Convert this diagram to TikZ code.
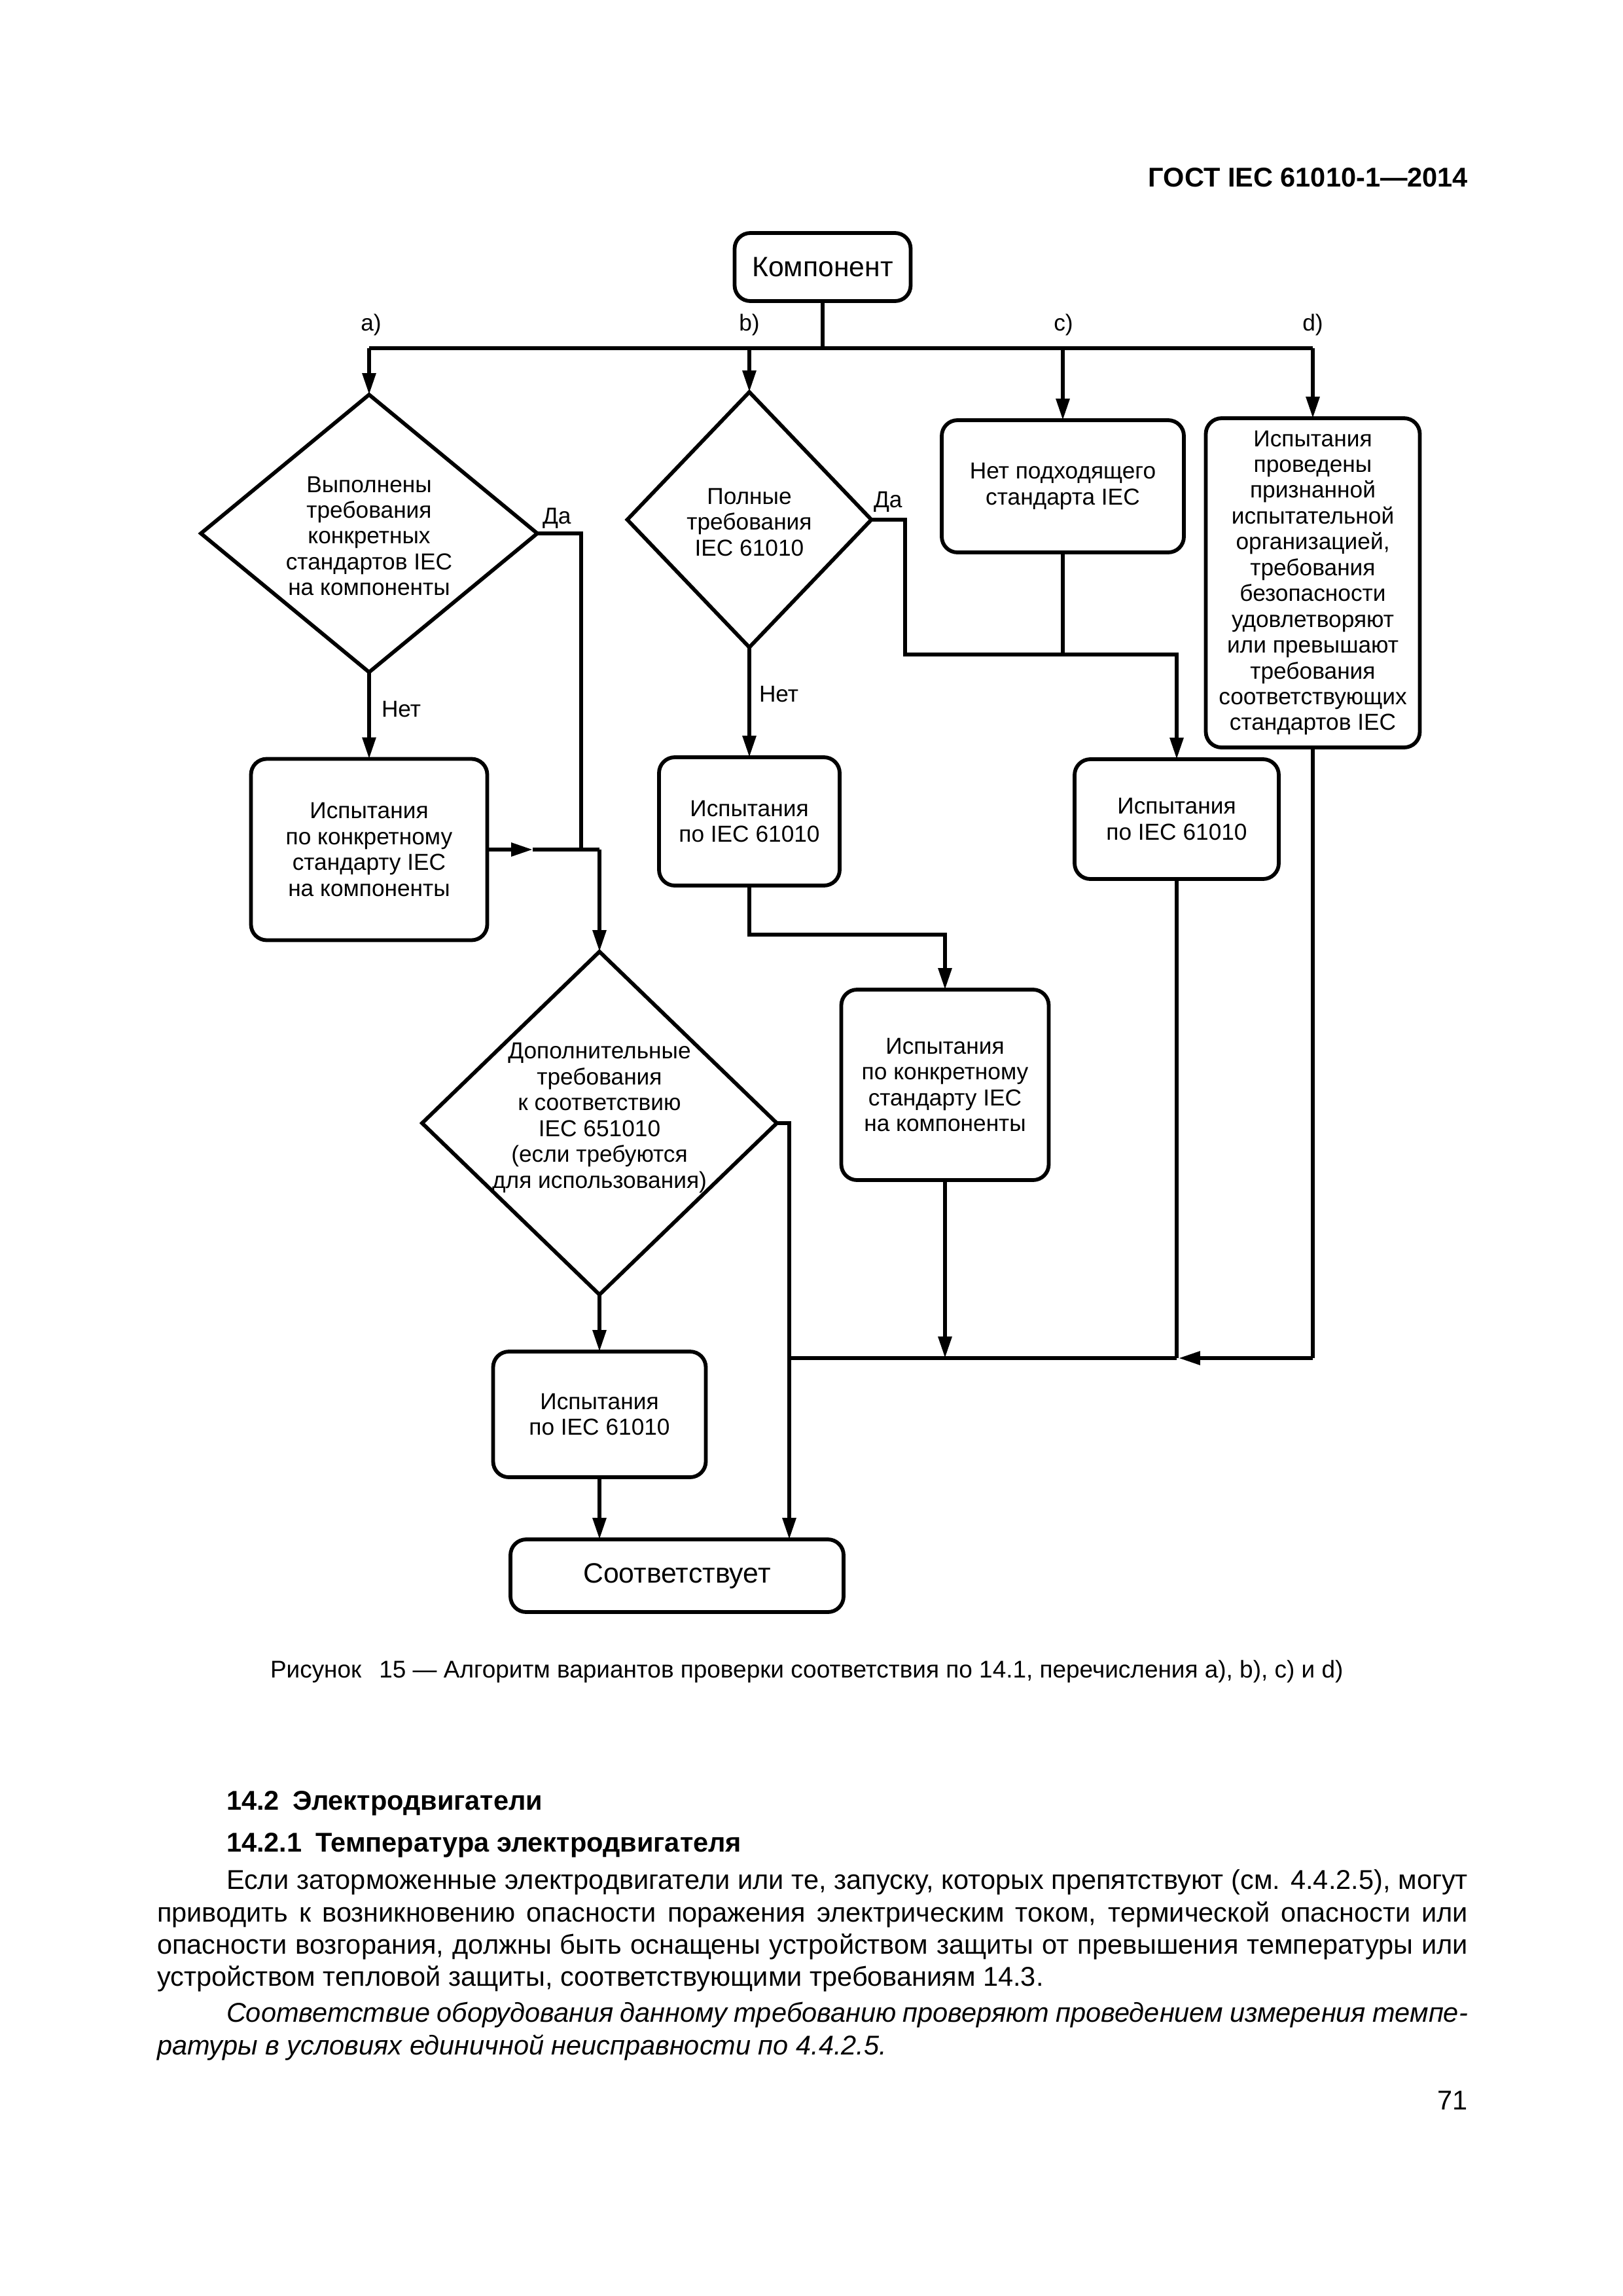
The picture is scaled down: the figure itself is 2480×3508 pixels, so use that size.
\documentclass[tikz,border=0pt]{standalone}
\usepackage{fontspec}
\setmainfont{Liberation Sans}
\usetikzlibrary{shapes.geometric,arrows.meta}
\newdimen\pxu \pxu=0.0846774mm
\newcommand\diagfont{\fontsize{8.5}{9.5}\selectfont}
\newcommand\bigdiagfont{\fontsize{10.3}{12}\selectfont}
\newcommand\bodyfont{\fontsize{10}{12}\selectfont}
\begin{document}
\begin{tikzpicture}[x=0.0846774mm,y=-0.0846774mm,
  every node/.style={inner sep=0pt, outer sep=0pt},
  conn/.style={line width=1.4pt},
  arr/.style={conn, -{Triangle[length=7.9pt,width=4.8pt]}},
  rbox/.style={draw, line width=1.4pt, rounded corners=24\pxu, align=center, font=\diagfont},
  diam/.style={draw, diamond, line width=1.4pt},
  dtext/.style={align=center, font=\diagfont},
  lab/.style={font=\diagfont},
  txt/.style={anchor=base west, font=\bodyfont},
]
\useasboundingbox (0,0) rectangle (2480,3508);

% header
\node[anchor=base east, font=\bfseries\fontsize{10}{12}\selectfont] (hdr) at (2243,285) {ГОСТ IEC 61010-1—2014};

% top
\node[rbox, font=\bigdiagfont, minimum width=269\pxu, minimum height=104\pxu] (komp) at (1257,408) {Компонент};
\coordinate (ba) at (564,532);
\coordinate (bb) at (1145,532);
\coordinate (bc) at (1624,532);
\coordinate (bd) at (2006,532);
\draw[conn] (ba) -- (bd);
\draw[conn] (komp.south) -- (komp.south |- ba);
\node[lab, anchor=base] (la) at (567,505) {a)};
\node[lab, anchor=base] (lb) at (1145,505) {b)};
\node[lab, anchor=base] (lc) at (1625,505) {c)};
\node[lab, anchor=base] (ld) at (2006,505) {d)};

% branch a
\node[diam, minimum width=514\pxu, minimum height=424\pxu] (da) at (564,815) {};
\node[dtext] (daT) at (564,819) {Выполнены\\требования\\конкретных\\стандартов IEC\\на компоненты};
\draw[arr] (ba) -- (da.north);
\node[lab, anchor=base west] (daYes) at (829,800) {Да};
\node[lab, anchor=base west] (daNo) at (583,1095) {Нет};
\node[rbox, minimum width=361\pxu, minimum height=277\pxu] (a2) at (564,1298) {Испытания\\по конкретному\\стандарту IEC\\на компоненты};
\draw[arr] (da.south) -- (a2.north);
\coordinate (ya1) at (888,815);
\coordinate (ya2) at (888,1298);
\draw[conn] (da.east) -- (ya1) -- (ya2);
\coordinate (ma) at (814,1298);
\coordinate (ja) at (916,1298);
\draw[arr] (a2.east) -- (ma);
\draw[conn] (ma) -- (ja);

% diamond c
\node[diam, minimum width=542\pxu, minimum height=524\pxu] (dc) at (916,1716) {};
\node[dtext] (dcT) at (916,1708) {Дополнительные\\требования\\к соответствию\\IEC 651010\\(если требуются\\для использования)};
\draw[arr] (ja) -- (dc.north);
\node[rbox, minimum width=325\pxu, minimum height=192\pxu] (c3) at (916,2161) {Испытания\\по IEC 61010};
\draw[arr] (dc.south) -- (c3.north);
\node[rbox, font=\bigdiagfont, minimum width=509\pxu, minimum height=111\pxu] (sv) at (1034.5,2407.5) {Соответствует};
\draw[arr] (c3.south) -- (c3.south |- sv.north);
\coordinate (rc1) at (1206,1716);
\draw[arr] (dc.east) -- (rc1) -- (rc1 |- sv.north);

% branch b
\node[diam, minimum width=373\pxu, minimum height=390\pxu] (db) at (1145,794) {};
\node[dtext] (dbT) at (1145,798) {Полные\\требования\\IEC 61010};
\draw[arr] (bb) -- (db.north);
\node[lab, anchor=base west] (dbYes) at (1335,775) {Да};
\node[lab, anchor=base west] (dbNo) at (1160,1072) {Нет};
\node[rbox, minimum width=276\pxu, minimum height=196\pxu] (b2) at (1145,1255) {Испытания\\по IEC 61010};
\draw[arr] (db.south) -- (b2.north);
\node[rbox, minimum width=317\pxu, minimum height=291\pxu] (b3) at (1444,1657.5) {Испытания\\по конкретному\\стандарту IEC\\на компоненты};
\coordinate (b2a) at (1145,1428);
\coordinate (b2b) at (1444,1428);
\draw[arr] (b2.south) -- (b2a) -- (b2b) -- (b3.north);

% branch c
\node[rbox, minimum width=370\pxu, minimum height=202\pxu] (cbox) at (1624,743) {Нет подходящего\\стандарта IEC};
\draw[arr] (bc) -- (cbox.north);
\node[rbox, minimum width=312\pxu, minimum height=183\pxu] (c2) at (1798,1251.5) {Испытания\\по IEC 61010};
\coordinate (yb1) at (1383,794);
\coordinate (yb2) at (1383,1000);
\coordinate (yb3) at (1798,1000);
\coordinate (jc) at (1624,1000);
\draw[arr] (db.east) -- (yb1) -- (yb2) -- (yb3) -- (c2.north);
\draw[conn] (cbox.south) -- (jc);

% branch d
\node[rbox, minimum width=327\pxu, minimum height=503\pxu] (dbox) at (2006,890.5) {Испытания\\проведены\\признанной\\испытательной\\организацией,\\требования\\безопасности\\удовлетворяют\\или превышают\\требования\\соответствующих\\стандартов IEC};
\draw[arr] (bd) -- (dbox.north);

% bottom bus
\coordinate (jd) at (2006,2075);
\coordinate (jc2) at (1798,2075);
\coordinate (jcT) at (1801,2075);
\coordinate (jb3) at (1444,2075);
\coordinate (jl) at (1206,2075);
\draw[conn] (dbox.south) -- (jd);
\draw[arr] (jd) -- (jcT);
\draw[conn] (c2.south) -- (jc2);
\draw[conn] (jc2) -- (jl);
\draw[arr] (b3.south) -- (jb3);

% caption
\node[anchor=base west, font=\fontsize{8.9}{11}\selectfont] (cap) at (413,2563) {Рисунок\hspace{6.5pt}15 — Алгоритм вариантов проверки соответствия по 14.1, перечисления a), b), c) и d)};

% text
\node[txt, font=\bfseries\bodyfont] (h1) at (346,2765) {14.2\hspace{5pt}Электродвигатели};
\node[txt, font=\bfseries\bodyfont] (h2) at (346,2829) {14.2.1\hspace{5pt}Температура электродвигателя};
\node[txt] (p1) at (346,2886) {\makebox[1897\pxu][s]{Если заторможенные электродвигатели или те, запуску, которых препятствуют (см. 4.4.2.5), могут}};
\node[txt] (p2) at (240,2936) {\makebox[2003\pxu][s]{приводить к возникновению опасности поражения электрическим током, термической опасности или}};
\node[txt] (p3) at (240,2985) {\makebox[2003\pxu][s]{опасности возгорания, должны быть оснащены устройством защиты от превышения температуры или}};
\node[txt] (p4) at (240,3034) {устройством тепловой защиты, соответствующими требованиям 14.3.};
\node[txt, font=\itshape\bodyfont] (i1) at (346,3089) {\makebox[1897\pxu][s]{Соответствие оборудования данному требованию проверяют проведением измерения темпе-}};
\node[txt, font=\itshape\bodyfont] (i2) at (240,3139) {ратуры в условиях единичной неисправности по 4.4.2.5.};
\node[anchor=base east, font=\bodyfont] (pg) at (2243,3223) {71};
\end{tikzpicture}
\end{document}
